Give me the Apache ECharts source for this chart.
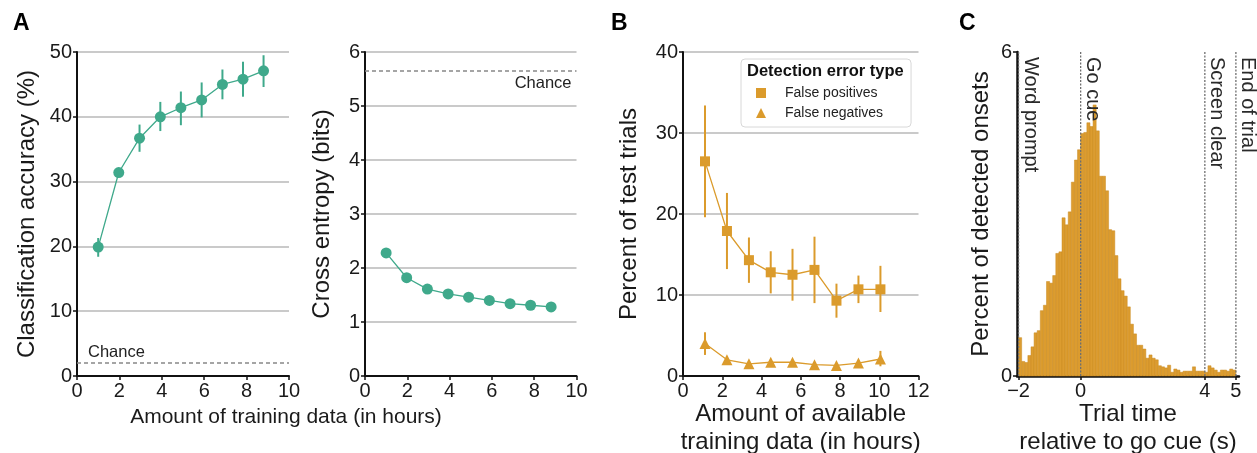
<!DOCTYPE html>
<html><head><meta charset="utf-8">
<script src="https://cdn.jsdelivr.net/npm/echarts@6/dist/echarts.min.js"></script>
<style>html,body{margin:0;padding:0;background:#fff}#c{width:1257px;height:453px}</style>
</head><body><div id="c"></div>
<script>
// ---------- Panel A data ----------
const hoursA = [1.0, 1.97, 2.95, 3.93, 4.9, 5.88, 6.86, 7.83, 8.8];
const accuracy = [19.9, 31.4, 36.7, 40.0, 41.4, 42.6, 45.0, 45.8, 47.1];
const accLow   = [18.4, 31.0, 34.6, 37.8, 38.7, 39.9, 42.7, 43.1, 44.6];
const accHigh  = [21.3, 31.8, 38.8, 42.3, 43.9, 45.3, 47.3, 48.5, 49.5];
const accChance = 2.0;
const crossEntropy = [2.28, 1.82, 1.61, 1.52, 1.46, 1.40, 1.34, 1.31, 1.28];
const entropyChance = 5.65;
// ---------- Panel B data ----------
const hoursB = [1.12, 2.24, 3.36, 4.47, 5.58, 6.70, 7.82, 8.94, 10.06];
const falsePos     = [26.5, 17.9, 14.3, 12.8, 12.5, 13.1, 9.3, 10.7, 10.7];
const falsePosLow  = [19.6, 13.2, 11.5, 10.2, 9.3, 9.0, 7.2, 9.0, 7.9];
const falsePosHigh = [33.4, 22.6, 17.1, 15.4, 15.7, 17.2, 11.4, 12.4, 13.6];
const falseNeg     = [4.0, 2.0, 1.5, 1.7, 1.7, 1.4, 1.3, 1.6, 2.1];
const falseNegLow  = [2.6, 1.7, 1.2, 1.4, 1.4, 1.1, 1.0, 1.3, 1.2];
const falseNegHigh = [5.4, 2.3, 1.8, 2.0, 2.0, 1.7, 1.6, 1.9, 3.1];
// ---------- Panel C data (histogram, 0.1 s bins from -2 to 5) ----------
const histStart = -2;
const histBinWidth = 0.1;
const onsetPercent = [
  0.71, 0.27, 0.25, 0.38, 0.54, 0.80, 0.84, 1.21, 1.31, 1.75,
  1.72, 1.86, 2.27, 2.30, 2.93, 2.80, 3.04, 3.59, 4.00, 4.19,
  4.49, 4.51, 4.69, 4.62, 5.02, 4.54, 3.70, 3.70, 3.43, 2.71,
  2.69, 2.23, 1.80, 1.58, 1.48, 1.28, 0.96, 0.78, 0.57, 0.57,
  0.50, 0.33, 0.39, 0.33, 0.30, 0.19, 0.17, 0.15, 0.20, 0.07,
  0.13, 0.11, 0.07, 0.09, 0.09, 0.09, 0.17, 0.09, 0.09, 0.09,
  0.07, 0.19, 0.15, 0.11, 0.07, 0.11, 0.11, 0.09, 0.13, 0.11
];
const eventTimes  = [-2, 0, 4, 5];
const eventLabels = ['Word prompt', 'Go cue', 'Screen clear', 'End of trial'];
const cTicks = [-2, 0, 4, 5];

const TEAL = '#3fa98b', ORANGE = '#db9b2c', INK = '#1a1a1a';
const FONT = '"Liberation Sans", Arial, Helvetica, sans-serif';

function zip(xs, ...cols){ return xs.map((x,i)=>[x, ...cols.map(c=>c[i])]); }

function axisBase(extra){
  return Object.assign({
    type:'value',
    axisLine:{show:true, onZero:false, lineStyle:{color:'#111', width:2}},
    axisTick:{show:true, length:4, lineStyle:{color:'#111', width:1.5}},
    axisLabel:{color:INK, fontSize:20, fontFamily:FONT, margin:5},
    splitLine:{show:false},
    nameTextStyle:{color:INK, fontSize:24, fontFamily:FONT},
    nameLocation:'middle',
    nameMoveOverlap:false
  }, extra);
}
const gridLine = {show:true, lineStyle:{color:'#b8b8b8', width:1.5}};

function errRender(color){
  return function(params, api){
    const a = api.coord([api.value(0), api.value(1)]);
    const b = api.coord([api.value(0), api.value(2)]);
    return {type:'line', shape:{x1:a[0], y1:a[1], x2:b[0], y2:b[1]}, style:{stroke:color, lineWidth:2}};
  };
}

const histData = onsetPercent.map((v,i)=>{
  const s = histStart + i*histBinWidth;
  return [s, s + histBinWidth, v];
});

const letterStyle = {fontSize:23, fontWeight:'bold', color:'#000', fontFamily:FONT};
const chart = echarts.init(document.getElementById('c'));
chart.setOption({
  animation:false,
  textStyle:{fontFamily:FONT},
  title:[
    {text:'A', left:8, top:7, textStyle:letterStyle},
    {text:'B', left:606, top:7, textStyle:letterStyle},
    {text:'C', left:954, top:7, textStyle:letterStyle},
    {text:'Detection error type', left:742, top:58, textStyle:{fontSize:16.5, fontWeight:'bold', color:'#111', fontFamily:FONT}}
  ],
  graphic:[
    {type:'text', x:286, y:417, style:{text:'Amount of training data (in hours)', font:'21px '+FONT, fill:INK,
      textAlign:'center', textVerticalAlign:'middle', align:'center', verticalAlign:'middle'}}
  ],
  legend:{
    data:[{name:'False positives', icon:'rect'}, {name:'False negatives', icon:'triangle'}],
    left:741, top:59, orient:'vertical',
    padding:[27, 28, 7, 15], itemWidth:10, itemHeight:10, itemGap:6,
    backgroundColor:'#fff', borderColor:'#d8d8d8', borderWidth:1, borderRadius:4,
    selectedMode:false,
    textStyle:{fontSize:14, color:'#222', fontFamily:FONT, padding:[0,0,0,14], lineHeight:14}
  },
  grid:[
    {left:77, top:52, width:212, height:324, outerBoundsMode:'none'},
    {left:365, top:52, width:211.5, height:324, outerBoundsMode:'none'},
    {left:683, top:52, width:235.5, height:324, outerBoundsMode:'none'},
    {left:1017, top:52, width:222, height:324, outerBoundsMode:'none'}
  ],
  xAxis:[
    axisBase({gridIndex:0, min:0, max:10, interval:2}),
    axisBase({gridIndex:1, min:0, max:10, interval:2}),
    axisBase({gridIndex:2, min:0, max:12, interval:2,
      name:'Amount of available\ntraining data (in hours)', nameGap:24,
      nameTextStyle:{color:INK, fontSize:24, fontFamily:FONT, lineHeight:28}}),
    axisBase({gridIndex:3, min:-2.05, max:5.1,
      axisLine:{show:true, onZero:false, lineStyle:{color:'#111', width:2.5}},
      axisTick:{show:true, length:4, lineStyle:{color:'#111', width:1.5}, customValues:cTicks},
      axisLabel:{color:INK, fontSize:20, fontFamily:FONT, margin:5, customValues:cTicks,
        formatter:v=> v<0 ? '\u2212'+Math.abs(v) : String(v)},
      name:'Trial time\nrelative to go cue (s)', nameGap:24,
      nameTextStyle:{color:INK, fontSize:24, fontFamily:FONT, lineHeight:28}})
  ],
  yAxis:[
    axisBase({gridIndex:0, min:0, max:50, interval:10, splitLine:gridLine,
      name:'Classification accuracy (%)', nameGap:38}),
    axisBase({gridIndex:1, min:0, max:6, interval:1, splitLine:gridLine,
      name:'Cross entropy (bits)', nameGap:31}),
    axisBase({gridIndex:2, min:0, max:40, interval:10, splitLine:gridLine,
      name:'Percent of test trials', nameGap:42}),
    axisBase({gridIndex:3, min:0, max:6, interval:6,
      axisLine:{show:true, onZero:false, lineStyle:{color:'#111', width:2.5}},
      name:'Percent of detected onsets', nameGap:24})
  ],
  series:[
    // Panel A left
    {type:'custom', xAxisIndex:0, yAxisIndex:0, data:zip(hoursA, accLow, accHigh),
      encode:{x:0, y:[1,2]}, renderItem:errRender(TEAL), silent:true, z:3},
    {type:'line', name:'accuracy', xAxisIndex:0, yAxisIndex:0, data:zip(hoursA, accuracy),
      symbol:'circle', symbolSize:11, color:TEAL, lineStyle:{width:1.3, color:TEAL}, itemStyle:{color:TEAL}, z:4,
      markLine:{silent:true, symbol:['none','none'], lineStyle:{type:[4,3], color:'#888', width:1.5},
        label:{show:true, formatter:'Chance', position:'insideStartTop', color:'#222', fontSize:16.5, fontFamily:FONT, distance:[11,2]},
        data:[{yAxis:accChance}]}},
    // Panel A right
    {type:'line', name:'entropy', xAxisIndex:1, yAxisIndex:1, data:zip(hoursA, crossEntropy),
      symbol:'circle', symbolSize:11, color:TEAL, lineStyle:{width:1.3, color:TEAL}, itemStyle:{color:TEAL}, z:4,
      markLine:{silent:true, symbol:['none','none'], lineStyle:{type:[4,3], color:'#888', width:1.5},
        label:{show:true, formatter:'Chance', position:'insideEndBottom', color:'#222', fontSize:16.5, fontFamily:FONT, distance:[5,4]},
        data:[{yAxis:entropyChance}]}},
    // Panel B
    {type:'custom', xAxisIndex:2, yAxisIndex:2, data:zip(hoursB, falsePosLow, falsePosHigh),
      encode:{x:0, y:[1,2]}, renderItem:errRender(ORANGE), silent:true, z:3},
    {type:'custom', xAxisIndex:2, yAxisIndex:2, data:zip(hoursB, falseNegLow, falseNegHigh),
      encode:{x:0, y:[1,2]}, renderItem:errRender(ORANGE), silent:true, z:3},
    {type:'line', name:'False positives', xAxisIndex:2, yAxisIndex:2, data:zip(hoursB, falsePos),
      symbol:'rect', symbolSize:10, color:ORANGE, lineStyle:{width:1.3, color:ORANGE}, itemStyle:{color:ORANGE}, z:4},
    {type:'line', name:'False negatives', xAxisIndex:2, yAxisIndex:2, data:zip(hoursB, falseNeg),
      symbol:'triangle', symbolSize:11, color:ORANGE, lineStyle:{width:1.3, color:ORANGE}, itemStyle:{color:ORANGE}, z:4},
    // Panel C histogram
    {type:'custom', xAxisIndex:3, yAxisIndex:3, data:histData, encode:{x:[0,1], y:2}, silent:true, z:2,
      renderItem:function(params, api){
        const p0 = api.coord([api.value(0), 0]);
        const p1 = api.coord([api.value(1), api.value(2)]);
        return {type:'rect', shape:{x:p0[0], y:p1[1], width:p1[0]-p0[0], height:p0[1]-p1[1]},
          style:{fill:'#dc9c2f', stroke:'#c88a22', lineWidth:0.5}};
      }},
    // Panel C events
    {type:'custom', xAxisIndex:3, yAxisIndex:3, data:eventTimes.map((t,i)=>[t, 6, i]), encode:{x:0, y:1}, silent:true, z:5,
      renderItem:function(params, api){
        const t = api.value(0);
        const b = api.coord([t, 0]);
        const top = api.coord([t, 6]);
        return {type:'group', children:[
          {type:'line', shape:{x1:b[0], y1:b[1], x2:top[0], y2:top[1]},
            style:{stroke:'#6f6f6f', lineWidth:1.3, lineDash:[2,1.5]}},
          {type:'text', x:top[0]+2, y:top[1]+5, rotation:-Math.PI/2,
            style:{text:eventLabels[params.dataIndex], font:'20px '+FONT, fill:'#2a2a2a',
              align:'left', verticalAlign:'bottom', textAlign:'left', textVerticalAlign:'bottom'}}
        ]};
      }}
  ]
});
</script></body></html>
